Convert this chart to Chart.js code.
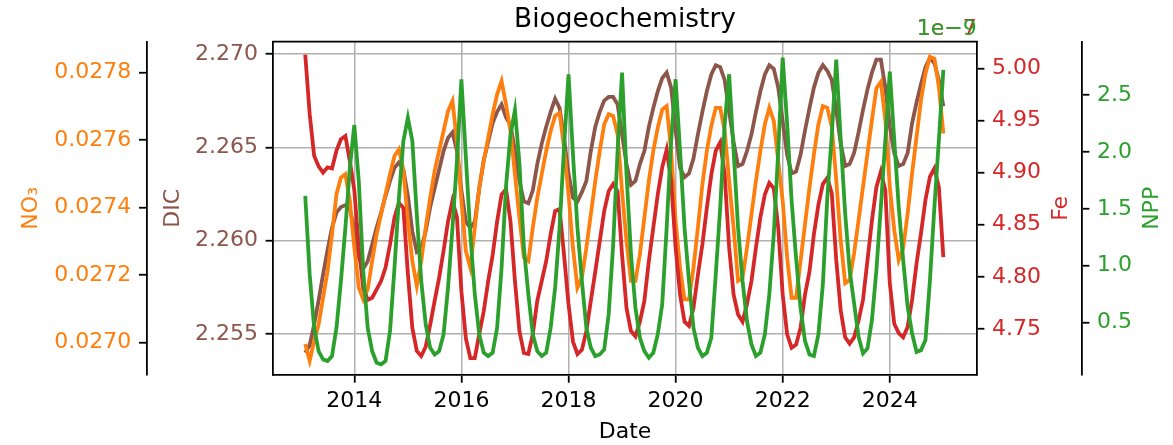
<!DOCTYPE html>
<html>
<head>
<meta charset="utf-8">
<script src="https://cdn.jsdelivr.net/npm/chart.js"></script>
<style>
  html, body { margin: 0; padding: 0; background: #fff; }
</style>
</head>
<body>
<canvas id="myChart" width="1173" height="445"></canvas>
<script>
// monthly means, month-end dates from Jan 2013 to Dec 2024
const firstYear = 2013
const monthCount = 144
const months = []
for (let i = 0; i < monthCount; i++) months.push(firstYear + (i + 1) / 12)

const dic = [
  2.2540, 2.2544, 2.2555, 2.2568, 2.2582, 2.2595, 2.2607, 2.2615, 2.2618, 2.2619, 2.2617, 2.2606,
  2.2591, 2.2585, 2.2589, 2.2598, 2.2607, 2.2615, 2.2624, 2.2632, 2.2639, 2.2642, 2.2638, 2.2624,
  2.2605, 2.2594, 2.2596, 2.2605, 2.2618, 2.2628, 2.2638, 2.2648, 2.2655, 2.2658, 2.2648, 2.2627,
  2.2610, 2.2607, 2.2610, 2.2628, 2.2643, 2.2653, 2.2663, 2.2669, 2.2673, 2.2666, 2.2662, 2.2648,
  2.2632, 2.2621, 2.2620, 2.2627, 2.2641, 2.2652, 2.2661, 2.2669, 2.2676, 2.2671, 2.2655, 2.2636,
  2.2623, 2.2621, 2.2626, 2.2632, 2.2648, 2.2661, 2.2669, 2.2675, 2.2677, 2.2677, 2.2673, 2.2657,
  2.2641, 2.2630, 2.2632, 2.2641, 2.2648, 2.2661, 2.2671, 2.2680, 2.2687, 2.2690, 2.2682, 2.2659,
  2.2639, 2.2634, 2.2636, 2.2644, 2.2657, 2.2669, 2.2680, 2.2689, 2.2694, 2.2693, 2.2686, 2.2669,
  2.2653, 2.2640, 2.2641, 2.2648, 2.2657, 2.2669, 2.2680, 2.2689, 2.2694, 2.2692, 2.2682, 2.2664,
  2.2646, 2.2636, 2.2637, 2.2646, 2.2659, 2.2671, 2.2682, 2.2690, 2.2694, 2.2691, 2.2686, 2.2670,
  2.2652, 2.2640, 2.2641, 2.2647, 2.2658, 2.2670, 2.2681, 2.2690, 2.2697, 2.2697, 2.2682, 2.2661,
  2.2647, 2.2640, 2.2641, 2.2647, 2.2663, 2.2674, 2.2684, 2.2693, 2.2698, 2.2695, 2.2686, 2.2672
]

const no3 = [
  0.026995, 0.026945, 0.027004, 0.027053, 0.027132, 0.027211, 0.027320, 0.027439, 0.027488, 0.027498, 0.027419, 0.027280,
  0.027162, 0.027127, 0.027157, 0.027241, 0.027320, 0.027379, 0.027439, 0.027498, 0.027552, 0.027572, 0.027510, 0.027359,
  0.027241, 0.027167, 0.027241, 0.027340, 0.027428, 0.027508, 0.027567, 0.027626, 0.027685, 0.027715, 0.027596, 0.027419,
  0.027270, 0.027221, 0.027340, 0.027458, 0.027537, 0.027606, 0.027676, 0.027735, 0.027774, 0.027705, 0.027626, 0.027498,
  0.027369, 0.027251, 0.027241, 0.027340, 0.027428, 0.027498, 0.027567, 0.027626, 0.027671, 0.027680, 0.027577, 0.027439,
  0.027280, 0.027162, 0.027191, 0.027280, 0.027379, 0.027478, 0.027567, 0.027646, 0.027676, 0.027671, 0.027616, 0.027448,
  0.027300, 0.027182, 0.027182, 0.027261, 0.027369, 0.027478, 0.027567, 0.027636, 0.027690, 0.027700, 0.027567, 0.027359,
  0.027221, 0.027127, 0.027127, 0.027221, 0.027340, 0.027468, 0.027567, 0.027641, 0.027695, 0.027695, 0.027626, 0.027478,
  0.027340, 0.027182, 0.027191, 0.027280, 0.027379, 0.027478, 0.027567, 0.027646, 0.027695, 0.027656, 0.027537, 0.027419,
  0.027251, 0.027132, 0.027132, 0.027241, 0.027350, 0.027458, 0.027557, 0.027646, 0.027700, 0.027695, 0.027639, 0.027481,
  0.027303, 0.027175, 0.027185, 0.027264, 0.027362, 0.027461, 0.027560, 0.027659, 0.027753, 0.027772, 0.027659, 0.027461,
  0.027333, 0.027244, 0.027279, 0.027382, 0.027501, 0.027609, 0.027718, 0.027797, 0.027846, 0.027841, 0.027757, 0.027619
]

const fe = [
  5.013, 4.956, 4.916, 4.906, 4.900, 4.905, 4.904, 4.921, 4.932, 4.935, 4.911, 4.883,
  4.828, 4.789, 4.778, 4.780, 4.788, 4.796, 4.809, 4.831, 4.857, 4.871, 4.866, 4.803,
  4.751, 4.729, 4.724, 4.733, 4.754, 4.777, 4.799, 4.825, 4.853, 4.873, 4.857, 4.786,
  4.741, 4.722, 4.722, 4.745, 4.767, 4.796, 4.821, 4.853, 4.879, 4.884, 4.853, 4.796,
  4.748, 4.727, 4.726, 4.745, 4.777, 4.796, 4.815, 4.841, 4.863, 4.865, 4.821, 4.774,
  4.738, 4.726, 4.730, 4.748, 4.777, 4.805, 4.834, 4.863, 4.882, 4.889, 4.882, 4.821,
  4.770, 4.748, 4.743, 4.757, 4.777, 4.815, 4.847, 4.879, 4.905, 4.922, 4.892, 4.828,
  4.783, 4.757, 4.753, 4.770, 4.802, 4.831, 4.866, 4.898, 4.921, 4.929, 4.898, 4.828,
  4.783, 4.764, 4.757, 4.774, 4.796, 4.828, 4.857, 4.879, 4.890, 4.885, 4.847, 4.783,
  4.745, 4.732, 4.735, 4.751, 4.783, 4.805, 4.841, 4.869, 4.889, 4.895, 4.880, 4.816,
  4.768, 4.742, 4.736, 4.742, 4.758, 4.778, 4.816, 4.854, 4.886, 4.901, 4.883, 4.794,
  4.755, 4.746, 4.742, 4.752, 4.778, 4.813, 4.842, 4.874, 4.896, 4.904, 4.886, 4.819
]

const npp = [
  1.613, 0.924, 0.455, 0.250, 0.178, 0.163, 0.207, 0.455, 0.866, 1.334, 1.861, 2.236,
  1.744, 0.953, 0.455, 0.250, 0.148, 0.134, 0.163, 0.426, 0.982, 1.598, 2.096, 2.301,
  2.096, 1.452, 0.866, 0.485, 0.280, 0.221, 0.250, 0.397, 0.807, 1.334, 1.920, 2.638,
  1.949, 1.276, 0.749, 0.397, 0.236, 0.207, 0.236, 0.455, 0.982, 1.700, 2.150, 2.368,
  1.900, 1.158, 0.749, 0.397, 0.250, 0.207, 0.236, 0.455, 0.807, 1.334, 2.037, 2.682,
  1.979, 1.334, 0.866, 0.455, 0.280, 0.207, 0.221, 0.265, 0.573, 1.180, 2.008, 2.696,
  1.803, 1.100, 0.631, 0.367, 0.250, 0.192, 0.236, 0.397, 0.661, 1.334, 2.096, 2.638,
  2.008, 1.334, 0.866, 0.455, 0.280, 0.207, 0.236, 0.367, 0.924, 1.510, 2.245, 2.682,
  2.008, 1.334, 0.866, 0.514, 0.309, 0.207, 0.236, 0.397, 0.749, 1.276, 2.008, 2.828,
  2.243, 1.569, 1.070, 0.631, 0.338, 0.221, 0.207, 0.397, 0.837, 1.600, 2.150, 2.810,
  2.105, 1.460, 0.962, 0.670, 0.376, 0.230, 0.274, 0.523, 0.962, 1.518, 2.105, 2.705,
  2.105, 1.518, 1.050, 0.640, 0.406, 0.244, 0.259, 0.347, 0.874, 1.518, 2.105, 2.720
]

const yearTicks = [2014, 2016, 2018, 2020, 2022, 2024]
const dicTicks = [2.255, 2.260, 2.265, 2.270]
const no3Ticks = [0.0270, 0.0272, 0.0274, 0.0276, 0.0278]
const feTicks = [4.75, 4.80, 4.85, 4.90, 4.95, 5.00]
const nppTicks = [0.5, 1.0, 1.5, 2.0, 2.5]

const brown = '#8c564b'
const orange = '#ff7f0e'
const red = '#d62728'
const green = '#2ca02c'

Chart.defaults.font.family = 'DejaVu Sans'
Chart.defaults.color = 'black'

const font = { family: 'DejaVu Sans', size: 22 }
const pts = values => months.map((x, i) => ({ x: x, y: values[i] }))
const useTicks = values => scale => { scale.ticks = values.map(v => ({ value: v })) }

function yAxis(position, weight, width, ticks, digits, color, withGrid) {
  return {
    type: 'linear',
    position: position,
    weight: weight,
    afterFit: scale => { scale.width = width },
    afterBuildTicks: useTicks(ticks),
    ticks: { color: color, font: font, padding: 7.7, callback: v => v.toFixed(digits) },
    grid: {
      drawOnChartArea: withGrid,
      color: '#b0b0b0',
      lineWidth: 1.5,
      tickColor: 'black',
      tickLength: 7.7,
      tickWidth: 1.8
    },
    border: { color: 'black', width: 1.8 }
  }
}

const scales = {
  x: {
    type: 'linear',
    position: 'bottom',
    min: 2012.487,
    max: 2025.623,
    afterFit: scale => { scale.height = 70 },
    afterBuildTicks: useTicks(yearTicks),
    ticks: { color: 'black', font: font, padding: 5.5, maxRotation: 0, autoSkip: false, callback: v => String(v) },
    grid: { color: '#b0b0b0', lineWidth: 1.5, tickColor: 'black', tickLength: 7.7, tickWidth: 1.8 },
    border: { color: 'black', width: 1.8 },
    title: { display: true, text: 'Date', color: 'black', font: font, padding: { top: 0, bottom: 0 } }
  },
  dic: Object.assign(yAxis('left', 1, 126.6, dicTicks, 3, brown, true), { min: 2.252804, max: 2.270659 }),
  no3: Object.assign(yAxis('left', 2, 146.7, no3Ticks, 4, orange, false), { min: 0.026903, max: 0.027891 }),
  fe: Object.assign(yAxis('right', 1, 105, feTicks, 2, red, false), { min: 4.7059, max: 5.0255 }),
  npp: Object.assign(yAxis('right', 2, 91.3, nppTicks, 1, green, false), { min: 0.0406, max: 2.968 })
}
scales.dic.title = { display: true, text: 'DIC', color: brown, font: font, padding: { top: 13, bottom: 0 } }
scales.no3.title = { display: true, text: 'NO₃', color: orange, font: font, padding: { top: 18.5, bottom: 0 } }

// top spine, offset texts and right-hand axis titles (read bottom to top, like matplotlib)
const extras = {
  id: 'extras',
  afterDraw(chart) {
    const { ctx, chartArea } = chart
    const mid = (chartArea.top + chartArea.bottom) / 2
    ctx.save()
    ctx.strokeStyle = 'black'
    ctx.lineWidth = 1.8
    ctx.beginPath()
    ctx.moveTo(chartArea.left - 0.9, chartArea.top)
    ctx.lineTo(chartArea.right + 0.9, chartArea.top)
    ctx.stroke()

    ctx.font = '22px "DejaVu Sans"'
    ctx.textAlign = 'right'
    ctx.textBaseline = 'alphabetic'
    ctx.fillStyle = red
    ctx.fillText('1e\u22127', chartArea.right, chartArea.top - 7)
    ctx.fillStyle = green
    ctx.fillText('1e\u22129', chartArea.right, chartArea.top - 7)

    const sideLabel = (text, x, color) => {
      ctx.save()
      ctx.translate(x, mid)
      ctx.rotate(-Math.PI / 2)
      ctx.textAlign = 'center'
      ctx.textBaseline = 'middle'
      ctx.fillStyle = color
      ctx.fillText(text, 0, 0)
      ctx.restore()
    }
    sideLabel('Fe', chart.scales.fe.right - 20, red)
    sideLabel('NPP', chart.scales.npp.right - 21, green)
    ctx.restore()
  }
}

const line = (label, values, axis, color, order) => ({
  label: label,
  data: pts(values),
  yAxisID: axis,
  borderColor: color,
  backgroundColor: color,
  borderWidth: 3.8,
  pointRadius: 0,
  tension: 0,
  fill: false,
  order: order
})

const config = {
  type: 'line',
  data: {
    datasets: [
      line('DIC', dic, 'dic', brown, 4),
      line('NO₃', no3, 'no3', orange, 3),
      line('Fe', fe, 'fe', red, 2),
      line('NPP', npp, 'npp', green, 1)
    ]
  },
  options: {
    responsive: false,
    animation: false,
    events: [],
    layout: { padding: 0 },
    scales: scales,
    plugins: {
      legend: { display: false },
      tooltip: { enabled: false },
      title: {
        display: true,
        text: 'Biogeochemistry',
        color: 'black',
        fullSize: false,
        font: { family: 'DejaVu Sans', size: 26.4, weight: 'normal' },
        padding: { top: 4.5, bottom: 5.5 }
      }
    }
  },
  plugins: [extras]
}

new Chart(document.querySelector('#myChart'), config)
</script>
</body>
</html>
